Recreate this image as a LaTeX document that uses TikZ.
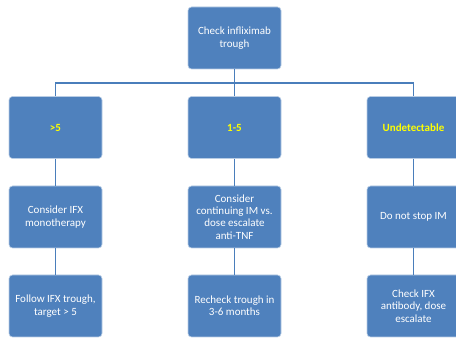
\documentclass[tikz,border=0pt]{standalone}
\usepackage{fontspec}
\setmainfont{Carlito}
\definecolor{boxblue}{HTML}{4F81BD}
\definecolor{lineblue}{HTML}{4A7EBB}
\definecolor{txtyellow}{HTML}{FFFF00}
\begin{document}
\begin{tikzpicture}[x=1pt,y=-1pt,
  box/.style={rectangle, rounded corners=3.5pt, fill=boxblue, draw=white!60!boxblue, line width=0.6pt,
    minimum width=93pt, minimum height=62pt, inner sep=1pt, align=center, text=white,
    font=\fontsize{11}{12.4}\selectfont},
  lvl/.style={box, text=txtyellow, font=\fontsize{11}{12.4}\selectfont\bfseries},
  conn/.style={draw=lineblue, line width=1.5pt}]
\useasboundingbox (0,0) rectangle (456,339);
\clip (0,0) rectangle (456,339);
\node[box] (top) at (234.5,38) {Check infliximab\\trough};
\node[lvl] (a1) at (55.5,127.5) {>5};
\node[lvl] (b1) at (234.5,127.5) {1-5};
\node[lvl] (c1) at (413.5,127.5) {Undetectable};
\node[box] (a2) at (55.5,217) {Consider IFX\\monotherapy};
\node[box] (b2) at (234.5,217) {Consider\\continuing IM vs.\\dose escalate\\anti-TNF};
\node[box] (c2) at (413.5,217) {Do not stop IM};
\node[box] (a3) at (55.5,306) {Follow IFX trough,\\target > 5};
\node[box] (b3) at (234.5,306) {Recheck trough in\\3-6 months};
\node[box] (c3) at (413.5,306) {Check IFX\\antibody, dose\\escalate};
\coordinate (bus) at (234.5,83);
\draw[conn] (top.south) -- (b1.north);
\draw[conn] (a1.north) |- (bus) -| (c1.north);
\draw[conn] (a1) -- (a2);
\draw[conn] (b1) -- (b2);
\draw[conn] (c1) -- (c2);
\draw[conn] (a2) -- (a3);
\draw[conn] (b2) -- (b3);
\draw[conn] (c2) -- (c3);
\end{tikzpicture}
\end{document}
